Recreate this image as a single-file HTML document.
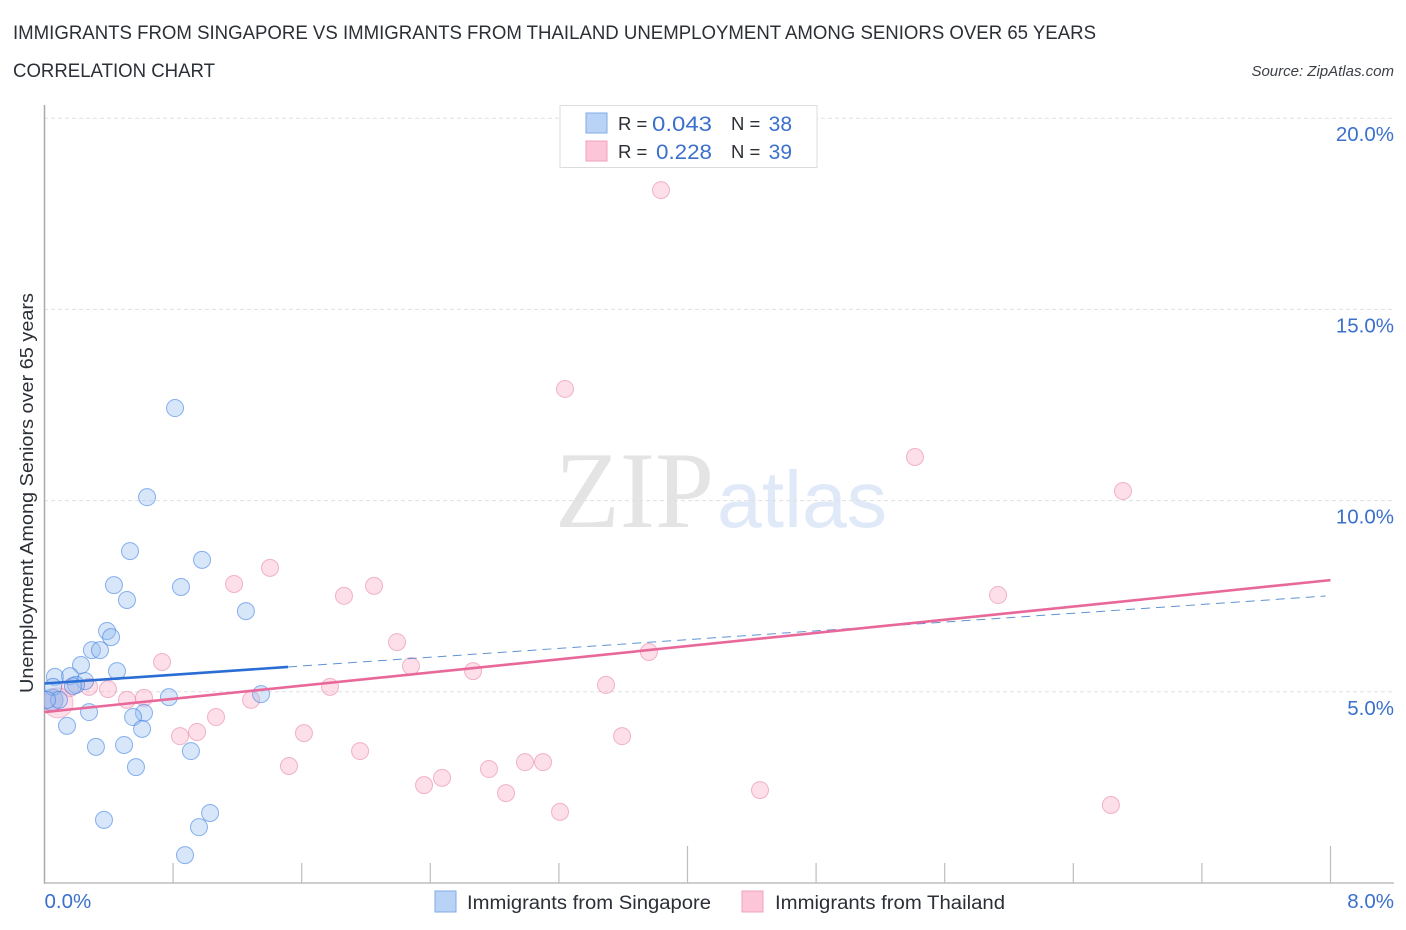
<!DOCTYPE html>
<html lang="en">
<head>
<meta charset="utf-8">
<title>Immigrants from Singapore vs Immigrants from Thailand Unemployment Among Seniors over 65 years</title>
<style>
html,body{margin:0;padding:0;background:#fff;width:1406px;height:930px;overflow:hidden}
svg{display:block}
text{font-family:"Liberation Sans",sans-serif}
.blue{fill:#3b70cc}
.dark{fill:#2b2f36}
</style>
</head>
<body>
<svg id="chart" xmlns="http://www.w3.org/2000/svg" width="1406" height="930" viewBox="0 0 1406 930">
  <defs><clipPath id="plot-clip"><rect x="44" y="105" width="1350" height="778"/></clipPath></defs>
  <rect x="0" y="0" width="1406" height="930" fill="#fff"/>
  <text class="dark" x="13" y="39" font-size="19" textLength="1083" lengthAdjust="spacingAndGlyphs">IMMIGRANTS FROM SINGAPORE VS IMMIGRANTS FROM THAILAND UNEMPLOYMENT AMONG SENIORS OVER 65 YEARS</text>
  <text class="dark" x="13" y="77" font-size="19" textLength="202" lengthAdjust="spacingAndGlyphs">CORRELATION CHART</text>
  <text x="1394" y="76" font-size="15" font-style="italic" fill="#3c4046" text-anchor="end">Source: ZipAtlas.com</text>

  <g>
    <text x="555" y="527" font-size="109" textLength="159" lengthAdjust="spacingAndGlyphs" fill="#e4e4e4" style="font-family:'Liberation Serif',serif">ZIP</text>
    <text x="717" y="527" font-size="80" textLength="170" lengthAdjust="spacingAndGlyphs" fill="#dfe9f8">atlas</text>
  </g>

  <g id="grid"></g>
  <g id="axes"></g>
  <g id="points" clip-path="url(#plot-clip)"></g>
  <g id="trends"></g>
  <g id="ticklabels"></g>

  <text class="dark" transform="translate(33,693) rotate(-90)" font-size="18.5" textLength="400" lengthAdjust="spacingAndGlyphs">Unemployment Among Seniors over 65 years</text>

  <g>
    <rect x="560" y="105.500" width="257" height="62" fill="#fff" stroke="#dcdcdc" stroke-width="1"/>
    <rect x="586" y="113" width="21" height="20" fill="#b9d3f7" stroke="#7fabe6" stroke-width="1"/>
    <rect x="586" y="141" width="21" height="20" fill="#fcc6d8" stroke="#f0a3bc" stroke-width="1"/>
    <text class="dark" x="618" y="130" font-size="18.500">R =</text>
    <text class="blue" x="712" y="131" font-size="21" text-anchor="end" textLength="60" lengthAdjust="spacingAndGlyphs">0.043</text>
    <text class="dark" x="731" y="130" font-size="18.500">N =</text>
    <text class="blue" x="792" y="131" font-size="21" text-anchor="end">38</text>
    <text class="dark" x="618" y="158" font-size="18.500">R =</text>
    <text class="blue" x="712" y="159" font-size="21" text-anchor="end" textLength="56" lengthAdjust="spacingAndGlyphs">0.228</text>
    <text class="dark" x="731" y="158" font-size="18.500">N =</text>
    <text class="blue" x="792" y="159" font-size="21" text-anchor="end">39</text>
  </g>

  <g>
    <g>
      <rect x="435" y="891" width="21" height="21" fill="#b9d3f7" stroke="#7fabe6" stroke-width="1"/>
      <text class="dark" x="467" y="909" font-size="19" textLength="244" lengthAdjust="spacingAndGlyphs">Immigrants from Singapore</text>
    </g>
    <g>
      <rect x="742" y="891" width="21" height="21" fill="#fcc6d8" stroke="#f0a3bc" stroke-width="1"/>
      <text class="dark" x="775" y="909" font-size="19" textLength="230" lengthAdjust="spacingAndGlyphs">Immigrants from Thailand</text>
    </g>
  </g>
</svg>
<script>
const yTickValues = [5, 10, 15, 20];
const yTickLabels = ["5.0%", "10.0%", "15.0%", "20.0%"];
const xMinorTicks = [0.8, 1.6, 2.4, 3.2, 4.8, 5.6, 6.4, 7.2];
const xMajorTicks = [4.0, 8.0];
const xEndLabels = ["0.0%", "8.0%"];
const xEndValues = [0, 8];

const singaporeX = [0.812,0.638,0.532,0.980,0.432,0.849,0.513,1.253,0.389,0.414,0.295,0.345,0.227,0.451,0.065,0.159,0.252,0.196,0.053,0.774,1.347,0.090,0.016,0.277,0.619,0.551,0.140,0.607,0.320,0.495,0.911,0.569,1.030,0.370,0.961,0.874,0.177];
const singaporeY = [12.42,10.09,8.68,8.45,7.79,7.74,7.40,7.11,6.59,6.43,6.09,6.09,5.70,5.54,5.39,5.41,5.28,5.18,5.13,4.86,4.94,4.79,4.79,4.47,4.45,4.34,4.11,4.03,3.56,3.61,3.45,3.03,1.83,1.65,1.46,0.73,5.15];

const thailandX = [3.835,3.238,5.415,6.709,1.179,1.403,2.050,1.863,5.932,2.193,3.760,0.731,2.280,2.666,3.493,1.776,0.277,0.395,0.159,0.513,0.619,1.285,1.067,0.949,0.843,1.614,3.593,1.963,1.521,3.101,2.989,2.765,2.473,2.361,2.871,4.451,3.207,6.634];
const thailandY = [18.12,12.92,11.14,10.25,7.82,8.24,7.77,7.51,7.53,6.30,6.04,5.78,5.67,5.54,5.18,5.13,5.13,5.07,5.10,4.79,4.84,4.79,4.34,3.95,3.84,3.92,3.84,3.45,3.06,3.16,3.16,2.98,2.75,2.56,2.35,2.43,1.86,2.04];

/* Large pooled-point bubbles near the origin: Thailand, Singapore */
const bubbleX = [0.084, 0.047];
const bubbleY = [4.71, 4.79];
const bubbleSize = [15, 11];

const singaporeTrendX = [0, 1.515, 7.97];
const singaporeTrendY = [5.217, 5.65, 7.505];
const thailandTrendX = [0, 8];
const thailandTrendY = [4.47, 7.92];

const xScale = v => 44.5 + v * 160.75;
const yScale = v => 883 - v * 38.24;
const NS = "http://www.w3.org/2000/svg";

function make(tag, parentId, attrs) {
  const el = document.createElementNS(NS, tag);
  for (const k in attrs) el.setAttribute(k, attrs[k]);
  document.getElementById(parentId).appendChild(el);
  return el;
}

/* gridlines and y tick labels */
yTickValues.forEach((v, i) => {
  const line = make("line", "grid", {x1: 44, x2: 1394, y1: yScale(v), y2: yScale(v), stroke: "#e0e0e0", "stroke-width": 1, "stroke-dasharray": "4 3"});
  
  
  const label = make("text", "ticklabels", {x: 1394, y: yScale(v) + 23, "font-size": 20.5, "text-anchor": "end", class: "blue"});
  label.textContent = yTickLabels[i];
  
  
});

/* x axis end labels */
xEndValues.forEach((v, i) => {
  const label = make("text", "ticklabels", {x: i === 0 ? xScale(v) : 1394, y: 908, "font-size": 20.5, "text-anchor": i === 0 ? "start" : "end", class: "blue"});
  label.textContent = xEndLabels[i];
  
  
});

/* axes and ticks */
const yAxisLine = make("line", "axes", {x1: 44.5, x2: 44.5, y1: 105, y2: 884, stroke: "#a9a9a9", "stroke-width": 1.5});


const xAxisLine = make("line", "axes", {x1: 44, x2: 1394, y1: 883, y2: 883, stroke: "#bdbdbd", "stroke-width": 1.5});


xMinorTicks.forEach(v => {
  const t = make("line", "axes", {x1: xScale(v), x2: xScale(v), y1: 863, y2: 883, stroke: "#bdbdbd", "stroke-width": 1.2});
  
  
});
xMajorTicks.forEach(v => {
  const t = make("line", "axes", {x1: xScale(v), x2: xScale(v), y1: 846, y2: 883, stroke: "#bdbdbd", "stroke-width": 1.2});
  
  
});

/* points */
thailandX.forEach((x, i) => {
  const c = make("circle", "points", {cx: xScale(x), cy: yScale(thailandY[i]), r: 8.5, fill: "rgba(248,170,195,.38)", stroke: "rgba(232,125,165,.55)", "stroke-width": 1});
  
  
});
const bubblePink = make("circle", "points", {cx: xScale(bubbleX[0]), cy: yScale(bubbleY[0]), r: bubbleSize[0], fill: "rgba(248,170,195,.38)", stroke: "rgba(232,125,165,.45)", "stroke-width": 1});


const bubbleBlue = make("circle", "points", {cx: xScale(bubbleX[1]), cy: yScale(bubbleY[1]), r: bubbleSize[1], fill: "rgba(130,165,230,.42)", stroke: "rgba(60,120,220,.5)", "stroke-width": 1});


singaporeX.forEach((x, i) => {
  const c = make("circle", "points", {cx: xScale(x), cy: yScale(singaporeY[i]), r: 8.5, fill: "rgba(150,190,240,.38)", stroke: "rgba(60,125,225,.58)", "stroke-width": 1});
  
  
});

/* trend lines */
const blueSolid = make("line", "trends", {x1: xScale(singaporeTrendX[0]), y1: yScale(singaporeTrendY[0]), x2: xScale(singaporeTrendX[1]), y2: yScale(singaporeTrendY[1]), stroke: "#2a6dd4", "stroke-width": 2.6});


const blueDashed = make("line", "trends", {x1: xScale(singaporeTrendX[1]), y1: yScale(singaporeTrendY[1]), x2: xScale(singaporeTrendX[2]), y2: yScale(singaporeTrendY[2]), stroke: "#5f93d2", "stroke-width": 1, "stroke-dasharray": "9 6"});


const pinkSolid = make("line", "trends", {x1: xScale(thailandTrendX[0]), y1: yScale(thailandTrendY[0]), x2: xScale(thailandTrendX[1]), y2: yScale(thailandTrendY[1]), stroke: "#e9689a", "stroke-width": 2.6});


</script>
</body>
</html>
